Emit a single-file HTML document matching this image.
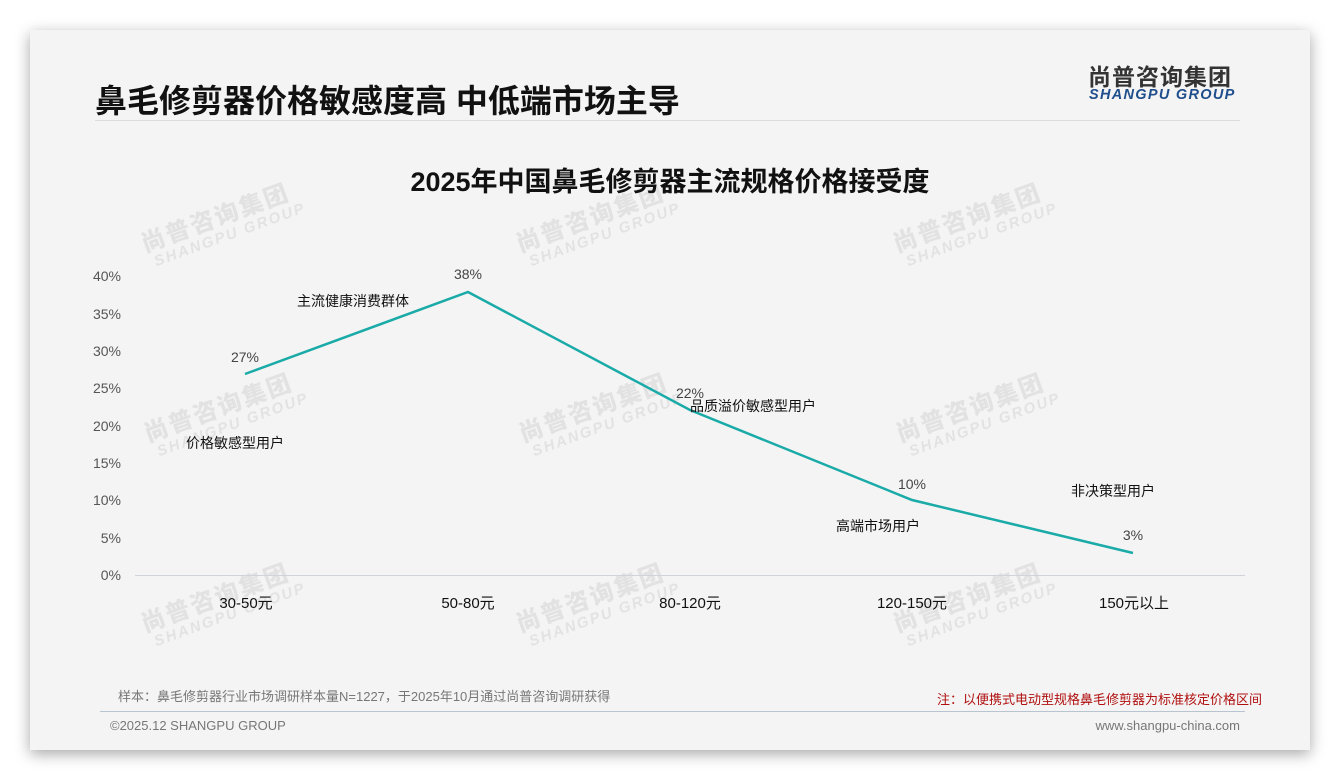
<!DOCTYPE html>
<html><head><meta charset="utf-8"><style>
body{margin:0;width:1340px;height:780px;background:#fff;position:relative;overflow:hidden;font-family:"Liberation Sans","Noto Sans CJK SC",sans-serif}
.card{position:absolute;left:30px;top:30px;width:1280px;height:720px;background:#f4f4f4;box-shadow:0 4px 14px rgba(0,0,0,.35)}
.t{position:absolute;white-space:nowrap}
.wm{position:absolute;transform:rotate(-20deg);color:rgba(0,0,0,.07);font-weight:bold;line-height:1}
.wm b{display:block;font-size:24px;letter-spacing:2px}
.wm i{display:block;font-size:15px;font-style:italic;letter-spacing:2px;margin-left:6px}
</style></head><body>
<div class="card"></div>
<div class="t" style="left:95px;top:76px;font-size:32px;font-weight:bold;color:#111">鼻毛修剪器价格敏感度高 中低端市场主导</div>
<div class="t" style="left:1088px;top:58px;font-size:23px;font-weight:bold;color:#333;letter-spacing:1px">尚普咨询集团</div>
<div class="t" style="left:1089px;top:88px;font-size:14.5px;line-height:15px;font-weight:bold;font-style:italic;color:#1f4e8c;letter-spacing:1.3px">SHANGPU GROUP</div>
<div style="position:absolute;left:95px;top:120px;width:1145px;height:1px;background:#ddd"></div>
<div class="t" style="left:0;width:1340px;text-align:center;top:160px;font-size:27px;font-weight:bold;color:#111">2025年中国鼻毛修剪器主流规格价格接受度</div>
<div class="wm" style="left:140px;top:205px"><b>尚普咨询集团</b><i>SHANGPU GROUP</i></div>
<div class="wm" style="left:515px;top:205px"><b>尚普咨询集团</b><i>SHANGPU GROUP</i></div>
<div class="wm" style="left:892px;top:205px"><b>尚普咨询集团</b><i>SHANGPU GROUP</i></div>
<div class="wm" style="left:143px;top:395px"><b>尚普咨询集团</b><i>SHANGPU GROUP</i></div>
<div class="wm" style="left:518px;top:395px"><b>尚普咨询集团</b><i>SHANGPU GROUP</i></div>
<div class="wm" style="left:895px;top:395px"><b>尚普咨询集团</b><i>SHANGPU GROUP</i></div>
<div class="wm" style="left:140px;top:585px"><b>尚普咨询集团</b><i>SHANGPU GROUP</i></div>
<div class="wm" style="left:515px;top:585px"><b>尚普咨询集团</b><i>SHANGPU GROUP</i></div>
<div class="wm" style="left:892px;top:585px"><b>尚普咨询集团</b><i>SHANGPU GROUP</i></div>
<svg width="1340" height="780" style="position:absolute;left:0;top:0" font-family="Liberation Sans,Noto Sans CJK SC,sans-serif">
<line x1="135" y1="575.5" x2="1245" y2="575.5" stroke="#d0d4da" stroke-width="1"/>
<g font-size="14" fill="#555" text-anchor="end">
<text x="121" y="281">40%</text><text x="121" y="319">35%</text><text x="121" y="356">30%</text><text x="121" y="393">25%</text><text x="121" y="431">20%</text><text x="121" y="468">15%</text><text x="121" y="505">10%</text><text x="121" y="543">5%</text><text x="121" y="580">0%</text>
</g>
<polyline points="245,374 468,292 690,410 912,500 1133,553" fill="none" stroke="#1aaba8" stroke-width="2.5"/>
<g font-size="14" fill="#444" text-anchor="middle">
<text x="245" y="362">27%</text><text x="468" y="279">38%</text><text x="690" y="398">22%</text><text x="912" y="489">10%</text><text x="1133" y="540">3%</text>
</g>
<g font-size="14" fill="#111">
<text x="186" y="448">价格敏感型用户</text><text x="297" y="306">主流健康消费群体</text><text x="690" y="411">品质溢价敏感型用户</text><text x="836" y="531">高端市场用户</text><text x="1071" y="496">非决策型用户</text>
</g>
<g font-size="15" fill="#111" text-anchor="middle">
<text x="246" y="608">30-50元</text><text x="468" y="608">50-80元</text><text x="690" y="608">80-120元</text><text x="912" y="608">120-150元</text><text x="1134" y="608">150元以上</text>
</g>
<text x="118" y="701" font-size="13" fill="#777">样本：鼻毛修剪器行业市场调研样本量N=1227，于2025年10月通过尚普咨询调研获得</text>
<text x="1262" y="704" font-size="13" fill="#b01010" text-anchor="end">注：以便携式电动型规格鼻毛修剪器为标准核定价格区间</text>
<line x1="100" y1="711.5" x2="1245" y2="711.5" stroke="#b8c4d0" stroke-width="1"/>
<text x="110" y="730" font-size="13" fill="#777">©2025.12 SHANGPU GROUP</text>
<text x="1240" y="730" font-size="13" fill="#777" text-anchor="end">www.shangpu-china.com</text>
</svg>
</body></html>
